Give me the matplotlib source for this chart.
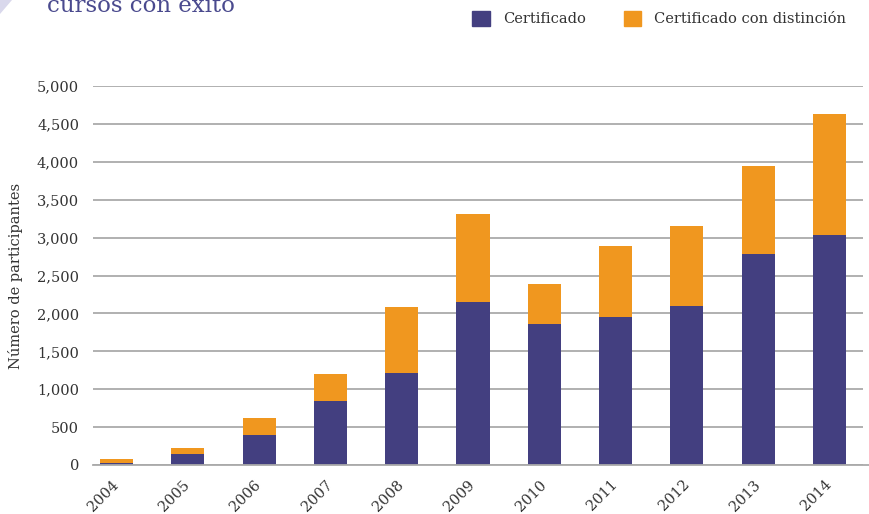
import matplotlib
matplotlib.use("Agg")
import matplotlib.pyplot as plt
from matplotlib.ticker import FuncFormatter
import matplotlib.patches as mpatches
import matplotlib.transforms as mtransforms

years = ["2004", "2005", "2006", "2007", "2008", "2009", "2010", "2011", "2012", "2013", "2014"]
certificado = [25, 145, 395, 848, 1218, 2156, 1854, 1946, 2104, 2788, 3038]
distincion_total = [80, 225, 622, 1206, 2090, 3314, 2393, 2893, 3156, 3946, 4630]
distincion = [t - c for t, c in zip(distincion_total, certificado)]
yticks = [0, 500, 1000, 1500, 2000, 2500, 3000, 3500, 4000, 4500, 5000]

BLUE = "#433F80"
ORANGE = "#F0971F"
GRID = "#AAAAAA"
TXT = "#333333"

plt.rcParams['font.family'] = ['DejaVu Serif', 'DejaVu Sans']

fig = plt.figure(figsize=(8.7, 5.14), dpi=100)
ax = fig.add_axes([93/870, (514-465)/514, (863-93)/870, (465-86)/514])

x = list(range(len(years)))
ax.bar(x, certificado, width=0.465, color=BLUE, zorder=3, label="Certificado")
ax.bar(x, distincion, bottom=certificado, width=0.465, color=ORANGE, zorder=3,
       label="Certificado con distinción")

ax.set_xlim(-0.33, 10.47)
ax.set_ylim(0, 5000)
ax.set_yticks(yticks)
ax.yaxis.set_major_formatter(FuncFormatter(lambda v, p: f"{int(v):,}"))
ax.grid(axis='y', color=GRID, linewidth=1.3, zorder=0)
for s in ['top', 'right', 'left', 'bottom']:
    ax.spines[s].set_visible(False)
ax.tick_params(axis='y', length=0, pad=10, labelsize=10.5, labelcolor=TXT)
ax.set_xticks(x)
ax.set_xticklabels(years, rotation=45, ha='right', rotation_mode='anchor',
                   fontsize=10.5, color=TXT)
ax.tick_params(axis='x', length=0, pad=9)
offset = mtransforms.ScaledTranslation(-5/100, 0, fig.dpi_scale_trans)
for lbl in ax.get_xticklabels():
    lbl.set_transform(lbl.get_transform() + offset)

# baseline extending to the right edge
fig.add_artist(plt.Line2D([93/870, 1.0], [(514-465)/514]*2, color=GRID,
                          linewidth=1.3, zorder=1))

ax.set_ylabel("Número de participantes", fontsize=10.5, color=TXT, labelpad=10)

# legend
handles = [mpatches.Patch(color=BLUE, label="Certificado"),
           mpatches.Patch(color=ORANGE, label="Certificado con distinción")]
fig.legend(handles=handles, loc='upper right', bbox_to_anchor=(0.988, 1.005), ncol=2,
           frameon=False, fontsize=10.5, handlelength=1.2, handleheight=1.2,
           handletextpad=0.9, columnspacing=2.6, labelcolor=TXT)

# title partially clipped at top (as in the reference)
fig.text(47/870, 1 - 12/514, "cursos con éxito", fontsize=16.5, color="#4A4A8E",
         ha='left', va='baseline')
# decorative corner shape
fig.add_artist(mpatches.Polygon([[0, 1], [12/870, 1], [0, 1 - 14/514]],
                                closed=True, transform=fig.transFigure,
                                color="#D9D8EC", lw=0))

fig.savefig("out.png", dpi=100)
